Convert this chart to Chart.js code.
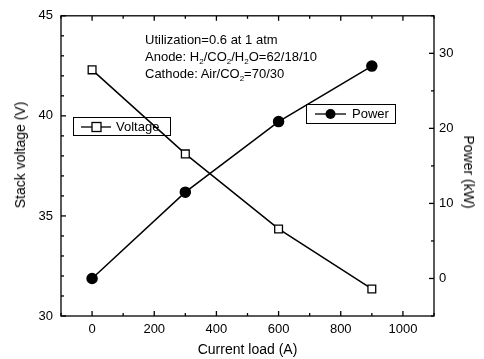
<!DOCTYPE html>
<html>
<head>
<meta charset="utf-8">
<script src="https://cdn.jsdelivr.net/npm/chart.js@4/dist/chart.umd.min.js"></script>
<style>
    html, body { margin: 0; padding: 0; background: #fff; }
    #wrap { position: relative; width: 484px; height: 359px; font-family: "Liberation Sans", Arial, sans-serif; color: #000; }
    #note { position: absolute; left: 145px; top: 31px; font-size: 13px; line-height: 17px; }
    #note sub { font-size: 8px; vertical-align: -3px; line-height: 0; }
    .ytitle { position: absolute; font-size: 14px; white-space: nowrap; transform: translate(-50%, -50%) rotate(-90deg); }
    .ytitle.right { transform: translate(-50%, -50%) rotate(90deg); }
</style>
</head>
<body>
<div id="wrap">
    <canvas id="chart" width="484" height="359"></canvas>
    <div id="note">
        <div>Utilization=0.6 at 1 atm</div>
        <div>Anode: H<sub>2</sub>/CO<sub>2</sub>/H<sub>2</sub>O=62/18/10</div>
        <div>Cathode: Air/CO<sub>2</sub>=70/30</div>
    </div>
    <div class="ytitle" style="left:20px; top:155px;">Stack voltage (V)</div>
    <div class="ytitle right" style="left:469px; top:172px;">Power (kW)</div>
</div>
<script>
const currentLoad = [0, 300, 600, 900];
const voltage = [42.3, 38.1, 34.35, 31.35];
const power = [0, 11.5, 20.9, 28.3];
const xTicks = [0, 200, 400, 600, 800, 1000];
const voltTicks = [30, 35, 40, 45];
const powerTicks = [0, 10, 20, 30];

const font = { family: '"Liberation Sans", Arial, sans-serif', size: 13 };

// inward tick marks on all four sides, plus the two boxed legends
const frame = {
    id: 'frame',
    afterDraw(chart) {
        const ctx = chart.ctx;
        const { left, right, top, bottom } = chart.chartArea;
        const x = chart.scales.x, y = chart.scales.y, y1 = chart.scales.y1;
        ctx.save();
        ctx.strokeStyle = '#000';
        ctx.lineWidth = 1.3;
        ctx.strokeRect(left, top, right - left, bottom - top);
        const tick = (xa, ya, xb, yb) => { ctx.beginPath(); ctx.moveTo(xa, ya); ctx.lineTo(xb, yb); ctx.stroke(); };
        for (let v = -100; v <= 1100; v += 100) {
            const px = x.getPixelForValue(v);
            const len = v % 200 === 0 ? 5 : 3;
            tick(px, bottom, px, bottom - len);
            tick(px, top, px, top + len);
        }
        for (let v = 30; v <= 45; v += 1) {
            const py = y.getPixelForValue(v);
            tick(left, py, left + (v % 5 === 0 ? 5 : 3), py);
        }
        for (let v = -5; v <= 35; v += 5) {
            const py = y1.getPixelForValue(v);
            tick(right, py, right - (v % 10 === 0 ? 5 : 3), py);
        }

        // legends
        ctx.font = '13px "Liberation Sans", Arial, sans-serif';
        ctx.textBaseline = 'middle';
        ctx.fillStyle = '#000';
        ctx.lineWidth = 1;
        ctx.strokeRect(73.5, 117.5, 97, 18);
        ctx.lineWidth = 1.3;
        tick(81, 127, 111, 127);
        ctx.fillStyle = '#fff';
        ctx.fillRect(92, 122.5, 9, 9);
        ctx.strokeRect(92, 122.5, 9, 9);
        ctx.fillStyle = '#000';
        ctx.fillText('Voltage', 116, 127);

        ctx.lineWidth = 1;
        ctx.strokeRect(306.5, 104.5, 89, 19);
        ctx.lineWidth = 1.3;
        tick(315, 114, 346, 114);
        ctx.beginPath();
        ctx.arc(330.5, 114, 5, 0, Math.PI * 2);
        ctx.fill();
        ctx.fillText('Power', 352, 114);
        ctx.restore();
    }
};

new Chart(document.getElementById('chart'), {
    type: 'line',
    data: {
        datasets: [
            {
                label: 'Voltage',
                data: currentLoad.map((c, i) => ({ x: c, y: voltage[i] })),
                yAxisID: 'y',
                borderColor: '#000',
                borderWidth: 1.5,
                pointStyle: 'rect',
                pointRadius: 5.5,
                pointBackgroundColor: '#fff',
                pointBorderColor: '#000',
                pointBorderWidth: 1.3
            },
            {
                label: 'Power',
                data: currentLoad.map((c, i) => ({ x: c, y: power[i] })),
                yAxisID: 'y1',
                borderColor: '#000',
                borderWidth: 1.5,
                pointStyle: 'circle',
                pointRadius: 5,
                pointBackgroundColor: '#000',
                pointBorderColor: '#000'
            }
        ]
    },
    options: {
        responsive: false,
        animation: false,
        layout: { padding: { top: 14 } },
        plugins: { legend: { display: false }, tooltip: { enabled: false } },
        scales: {
            x: {
                type: 'linear',
                min: -100, max: 1100,
                afterBuildTicks: s => { s.ticks = xTicks.map(v => ({ value: v })); },
                afterFit: s => { s.height = 43; },
                grid: { display: false, drawTicks: false },
                border: { display: false },
                ticks: { color: '#000', font, padding: 6, maxRotation: 0, callback: v => String(v) },
                title: { display: true, text: 'Current load (A)', color: '#000', font: { family: font.family, size: 14 }, padding: { top: 0, bottom: 0 } }
            },
            y: {
                type: 'linear',
                position: 'left',
                min: 30, max: 45,
                afterBuildTicks: s => { s.ticks = voltTicks.map(v => ({ value: v })); },
                afterFit: s => { s.width = 61; },
                grid: { display: false, drawTicks: false },
                border: { display: false },
                ticks: { color: '#000', font, padding: 8, callback: v => String(v) }
            },
            y1: {
                type: 'linear',
                position: 'right',
                min: -5, max: 35,
                afterBuildTicks: s => { s.ticks = powerTicks.map(v => ({ value: v })); },
                afterFit: s => { s.width = 50; },
                grid: { display: false, drawTicks: false },
                border: { display: false },
                ticks: { color: '#000', font, padding: 5, callback: v => String(v) }
            }
        }
    },
    plugins: [frame]
});
</script>
</body>
</html>
